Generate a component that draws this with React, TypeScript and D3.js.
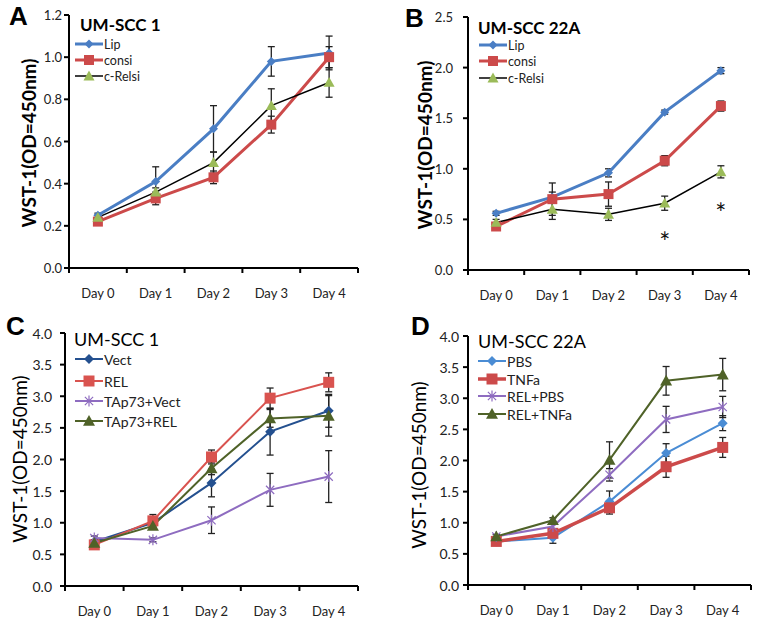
import React from "react";
import * as d3 from "d3";

const days = ["Day 0", "Day 1", "Day 2", "Day 3", "Day 4"];

// Panel A: UM-SCC 1 (siRNA)
const aTicks = [0, 0.2, 0.4, 0.6, 0.8, 1.0, 1.2];
const aLip = [0.25, 0.41, 0.66, 0.98, 1.02];
const aLipErr = [0.01, 0.07, 0.11, 0.07, 0.08];
const aConsi = [0.22, 0.33, 0.43, 0.68, 1.0];
const aConsiErr = [0.01, 0.03, 0.03, 0.04, 0.05];
const aRelsi = [0.24, 0.36, 0.5, 0.77, 0.88];
const aRelsiErr = [0.01, 0.02, 0.05, 0.08, 0.07];

// Panel B: UM-SCC 22A (siRNA)
const bTicks = [0, 0.5, 1.0, 1.5, 2.0, 2.5];
const bLip = [0.56, 0.72, 0.96, 1.56, 1.97];
const bLipErr = [0.02, 0.05, 0.04, 0.02, 0.03];
const bConsi = [0.43, 0.7, 0.75, 1.08, 1.62];
const bConsiErr = [0.03, 0.16, 0.12, 0.05, 0.05];
const bRelsi = [0.47, 0.6, 0.55, 0.66, 0.97];
const bRelsiErr = [0.03, 0.1, 0.06, 0.07, 0.06];
const bStarDays = ["Day 3", "Day 4"];
const bStarY = [0.27, 0.55];

// Panel C: UM-SCC 1 (overexpression)
const cTicks = [0, 0.5, 1.0, 1.5, 2.0, 2.5, 3.0, 3.5, 4.0];
const cVect = [0.7, 1.0, 1.63, 2.44, 2.77];
const cVectErr = [0.03, 0.05, 0.22, 0.37, 0.26];
const cRel = [0.65, 1.03, 2.04, 2.97, 3.22];
const cRelErr = [0.03, 0.1, 0.11, 0.16, 0.15];
const cTapVect = [0.76, 0.73, 1.04, 1.52, 1.73];
const cTapVectErr = [0.03, 0.03, 0.21, 0.26, 0.41];
const cTapRel = [0.68, 0.95, 1.86, 2.65, 2.69];
const cTapRelErr = [0.03, 0.05, 0.1, 0.14, 0.32];

// Panel D: UM-SCC 22A (TNF)
const dTicks = [0, 0.5, 1.0, 1.5, 2.0, 2.5, 3.0, 3.5, 4.0];
const dPbs = [0.7, 0.76, 1.34, 2.12, 2.6];
const dPbsErr = [0.03, 0.09, 0.17, 0.15, 0.12];
const dTnf = [0.7, 0.83, 1.24, 1.9, 2.21];
const dTnfErr = [0.03, 0.05, 0.1, 0.17, 0.16];
const dRelPbs = [0.78, 0.94, 1.77, 2.66, 2.86];
const dRelPbsErr = [0.03, 0.05, 0.1, 0.21, 0.17];
const dRelTnf = [0.78, 1.04, 2.01, 3.28, 3.38];
const dRelTnfErr = [0.03, 0.04, 0.29, 0.23, 0.26];

type Marker = "diamond" | "square" | "triangle" | "star";
interface Series {
  name: string;
  values: number[];
  errors: number[];
  color: string;
  fill: string;
  marker: Marker;
  lw: number;
  ms: number;
}
interface PanelCfg {
  letter: string;
  letterX: number;
  letterY: number;
  title: string;
  titleBold: boolean;
  titleX: number;
  titleY: number;
  titleSize: number;
  yTitleBold: boolean;
  yTitleX: number;
  yTitleY: number;
  yTitleSize: number;
  x0: number;
  x1: number;
  yTop: number;
  yBottom: number;
  ticks: number[];
  tickSize: number;
  tickGap: number;
  legX: number;
  legRows: number[];
  legSize: number;
  series: Series[];
  axisW: number;
  xLabelY: number;
}

const FONT = "Lato, 'Open Sans', sans-serif";

function markerPath(m: Marker, s: number): string {
  const r = s / 2;
  if (m === "diamond") return `M0,${-r}L${r},0L0,${r}L${-r},0Z`;
  if (m === "square") return `M${-r},${-r}H${r}V${r}H${-r}Z`;
  if (m === "triangle") return `M0,${-r}L${r},${r * 0.8}L${-r},${r * 0.8}Z`;
  const d = r * 0.75;
  return `M${-d},${-d}L${d},${d}M${-d},${d}L${d},${-d}M0,${-r}L0,${r}`;
}

function MarkerEl({ s, x, y }: { s: Series; x: number; y: number }) {
  const star = s.marker === "star";
  return (
    <path
      d={markerPath(s.marker, s.ms)}
      transform={`translate(${x},${y})`}
      fill={star ? "none" : s.fill}
      stroke={star ? s.fill : "none"}
      strokeWidth={star ? 1.2 : 0}
    />
  );
}

function Panel({ c }: { c: PanelCfg }) {
  const x = d3.scaleBand<string>().domain(days).range([c.x0, c.x1]);
  const bw = x.bandwidth();
  const cx = (d: string) => (x(d) as number) + bw / 2;
  const y = d3
    .scaleLinear()
    .domain([0, c.ticks[c.ticks.length - 1]])
    .range([c.yBottom, c.yTop]);
  const line = d3
    .line<number>()
    .x((_, i) => cx(days[i]))
    .y((v) => y(v));
  const fmt = d3.format(".1f");
  return (
    <g>
      <text x={c.letterX} y={c.letterY} fontFamily="Arial, sans-serif" fontWeight="bold" fontSize={26}>
        {c.letter}
      </text>
      {/* axes */}
      <line x1={c.x0} x2={c.x0} y1={c.yTop} y2={c.yBottom + 1} stroke="#000" strokeWidth={c.axisW} />
      <line x1={c.x0} x2={c.x1} y1={c.yBottom} y2={c.yBottom} stroke="#000" strokeWidth={c.axisW} />
      {c.ticks.map((t) => (
        <g key={t}>
          <line x1={c.x0 - 5} x2={c.x0} y1={y(t)} y2={y(t)} stroke="#000" strokeWidth={c.axisW} />
          <text
            x={c.x0 - c.tickGap}
            y={y(t)}
            textAnchor="end"
            dominantBaseline="central"
            fontFamily={FONT}
            fontSize={c.tickSize}
            fill="#222"
          >
            {fmt(t)}
          </text>
        </g>
      ))}
      {d3.range(days.length + 1).map((i) => (
        <line
          key={i}
          x1={c.x0 + i * bw}
          x2={c.x0 + i * bw}
          y1={c.yBottom}
          y2={c.yBottom + 5}
          stroke="#000"
          strokeWidth={c.axisW}
        />
      ))}
      {days.map((d) => (
        <text key={d} x={cx(d)} y={c.xLabelY} textAnchor="middle" fontFamily={FONT} fontSize={13} fill="#222">
          {d}
        </text>
      ))}
      <text
        transform={`translate(${c.yTitleX},${c.yTitleY}) rotate(-90)`}
        textAnchor="middle"
        dominantBaseline="central"
        fontFamily={FONT}
        fontWeight={c.yTitleBold ? "bold" : "normal"}
        fontSize={c.yTitleSize}
      >
        WST-1(OD=450nm)
      </text>
      <text
        x={c.titleX}
        y={c.titleY}
        fontFamily={FONT}
        fontWeight={c.titleBold ? "bold" : "normal"}
        fontSize={c.titleSize}
      >
        {c.title}
      </text>
      {/* error bars */}
      {c.series.map((s) =>
        s.values.map((v, i) => {
          const px = cx(days[i]);
          const top = y(v + s.errors[i]);
          const bot = y(v - s.errors[i]);
          return (
            <g key={s.name + i} stroke="#222" strokeWidth={1.3}>
              <line x1={px} x2={px} y1={top} y2={bot} />
              <line x1={px - 3.5} x2={px + 3.5} y1={top} y2={top} />
              <line x1={px - 3.5} x2={px + 3.5} y1={bot} y2={bot} />
            </g>
          );
        })
      )}
      {/* lines */}
      {c.series.map((s) => (
        <path key={s.name} d={line(s.values) as string} fill="none" stroke={s.color} strokeWidth={s.lw} />
      ))}
      {/* markers */}
      {c.series.map((s) =>
        s.values.map((v, i) => <MarkerEl key={s.name + "m" + i} s={s} x={cx(days[i])} y={y(v)} />)
      )}
      {/* legend */}
      {c.series.map((s, k) => {
        const ly = c.legRows[k];
        return (
          <g key={s.name + "leg"}>
            <line x1={c.legX} x2={c.legX + 28} y1={ly} y2={ly} stroke={s.color} strokeWidth={s.lw} />
            <MarkerEl s={s} x={c.legX + 14} y={ly} />
            <text
              x={c.legX + 29}
              y={ly}
              dominantBaseline="central"
              fontFamily={FONT}
              fontSize={c.legSize}
              fill="#222"
            >
              {s.name}
            </text>
          </g>
        );
      })}
    </g>
  );
}

const BLUE = "#4A7EC4";
const RED = "#CC4A4A";
const GREEN = "#9BBB59";
const NAVY = "#24508F";
const RED2 = "#D9534F";
const PURPLE = "#8E6CC0";
const OLIVE = "#4F6228";
const LBLUE = "#4A8CD4";

const panelA: PanelCfg = {
  letter: "A", letterX: 9, letterY: 25,
  title: "UM-SCC 1", titleBold: true, titleX: 80, titleY: 31, titleSize: 17,
  yTitleBold: true, yTitleX: 28, yTitleY: 143, yTitleSize: 19,
  x0: 69, x1: 358, yTop: 15, yBottom: 268, ticks: aTicks, tickSize: 13, tickGap: 7,
  legX: 75, legRows: [44, 60, 76], legSize: 12.5, axisW: 2, xLabelY: 298,
  series: [
    { name: "Lip", values: aLip, errors: aLipErr, color: BLUE, fill: BLUE, marker: "diamond", lw: 3, ms: 9 },
    { name: "consi", values: aConsi, errors: aConsiErr, color: RED, fill: RED, marker: "square", lw: 3, ms: 10 },
    { name: "c-Relsi", values: aRelsi, errors: aRelsiErr, color: "#000", fill: GREEN, marker: "triangle", lw: 1.5, ms: 11 },
  ],
};

const panelB: PanelCfg = {
  letter: "B", letterX: 405, letterY: 27,
  title: "UM-SCC 22A", titleBold: true, titleX: 478, titleY: 34, titleSize: 17,
  yTitleBold: true, yTitleX: 424, yTitleY: 145, yTitleSize: 19,
  x0: 468, x1: 749, yTop: 17, yBottom: 270, ticks: bTicks, tickSize: 13, tickGap: 15,
  legX: 479, legRows: [45, 61, 78], legSize: 12.5, axisW: 2, xLabelY: 300,
  series: [
    { name: "Lip", values: bLip, errors: bLipErr, color: BLUE, fill: BLUE, marker: "diamond", lw: 3, ms: 9 },
    { name: "consi", values: bConsi, errors: bConsiErr, color: RED, fill: RED, marker: "square", lw: 3, ms: 10 },
    { name: "c-Relsi", values: bRelsi, errors: bRelsiErr, color: "#000", fill: GREEN, marker: "triangle", lw: 1.5, ms: 11 },
  ],
};

const panelC: PanelCfg = {
  letter: "C", letterX: 6, letterY: 335,
  title: "UM-SCC 1", titleBold: false, titleX: 74, titleY: 346, titleSize: 18,
  yTitleBold: false, yTitleX: 19, yTitleY: 459, yTitleSize: 19,
  x0: 65, x1: 358, yTop: 333, yBottom: 586, ticks: cTicks, tickSize: 14, tickGap: 13,
  legX: 75, legRows: [359, 381, 401, 421], legSize: 14, axisW: 2, xLabelY: 616,
  series: [
    { name: "Vect", values: cVect, errors: cVectErr, color: NAVY, fill: NAVY, marker: "diamond", lw: 2, ms: 10 },
    { name: "REL", values: cRel, errors: cRelErr, color: RED2, fill: RED2, marker: "square", lw: 2, ms: 11 },
    { name: "TAp73+Vect", values: cTapVect, errors: cTapVectErr, color: PURPLE, fill: PURPLE, marker: "star", lw: 2, ms: 11 },
    { name: "TAp73+REL", values: cTapRel, errors: cTapRelErr, color: OLIVE, fill: OLIVE, marker: "triangle", lw: 2, ms: 12 },
  ],
};

const panelD: PanelCfg = {
  letter: "D", letterX: 411, letterY: 335,
  title: "UM-SCC 22A", titleBold: false, titleX: 478, titleY: 348, titleSize: 18,
  yTitleBold: false, yTitleX: 418, yTitleY: 465, yTitleSize: 19,
  x0: 468, x1: 751, yTop: 336, yBottom: 585, ticks: dTicks, tickSize: 14, tickGap: 9,
  legX: 478, legRows: [361, 379, 396, 414], legSize: 14, axisW: 2, xLabelY: 615,
  series: [
    { name: "PBS", values: dPbs, errors: dPbsErr, color: LBLUE, fill: LBLUE, marker: "diamond", lw: 2, ms: 10 },
    { name: "TNFa", values: dTnf, errors: dTnfErr, color: RED, fill: RED, marker: "square", lw: 3.5, ms: 11 },
    { name: "REL+PBS", values: dRelPbs, errors: dRelPbsErr, color: PURPLE, fill: PURPLE, marker: "star", lw: 2, ms: 11 },
    { name: "REL+TNFa", values: dRelTnf, errors: dRelTnfErr, color: OLIVE, fill: OLIVE, marker: "triangle", lw: 2, ms: 12 },
  ],
};

function Stars() {
  const x = d3.scaleBand<string>().domain(days).range([panelB.x0, panelB.x1]);
  const y = d3.scaleLinear().domain([0, 2.5]).range([panelB.yBottom, panelB.yTop]);
  return (
    <g>
      {bStarDays.map((d, i) => (
        <text
          key={d}
          x={(x(d) as number) + x.bandwidth() / 2}
          y={y(bStarY[i]) + 9}
          textAnchor="middle"
          fontFamily={FONT}
          fontSize={26}
          fill="#111"
        >
          *
        </text>
      ))}
    </g>
  );
}

export default function App() {
  return (
    <div style={{ position: "fixed", left: 0, top: 0, width: 762, height: 626, background: "#fff" }}>
      <svg width={762} height={626} viewBox="0 0 762 626">
        <rect width={762} height={626} fill="#fff" />
        <Panel c={panelA} />
        <Panel c={panelB} />
        <Panel c={panelC} />
        <Panel c={panelD} />
        <Stars />
      </svg>
    </div>
  );
}
